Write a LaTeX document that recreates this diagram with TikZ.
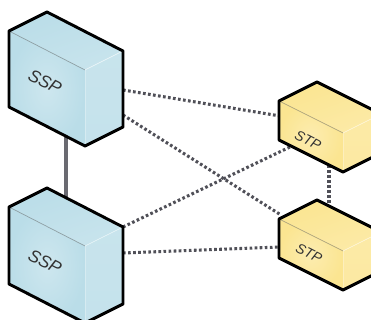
\documentclass[tikz,border=0pt]{standalone}
\usepackage{fontspec}
\usepackage{xcolor}
\usepackage{tikz}
\usetikzlibrary{positioning,calc}
\setmainfont{Liberation Sans}
\definecolor{sspface}{RGB}{186,221,232}
\definecolor{stpface}{RGB}{251,229,145}
\definecolor{linkgray}{RGB}{80,80,88}
\tikzset{
    boxedge/.style={line width=2.2pt, line join=round},
    boxcrease/.style={line width=0.5pt},
    boxlabel/.style={text=black!80, inner sep=0pt, rotate=-27},
    dottedlink/.style={linkgray, line width=2.3pt, dash pattern=on 2pt off 1.8pt},
    solidlink/.style={linkgray!85!white, line width=2.3pt},
    pics/cabinet/.style n args={4}{code={
        % faces
        \shade[left color=#4, right color=#4!80!white, shading angle=20]
            (0,0) -- (38,-19) -- (38+#1,-19+#2) -- (#1,#2) -- cycle;
        \shade[inner color=#4!72!white, outer color=#4]
            (0,0) -- (#1,#2) -- (#1,#2+#3) -- (0,#3) -- cycle;
        \shade[bottom color=#4!85!white, top color=#4!80!white]
            (#1,#2) -- (38+#1,-19+#2) -- (38+#1,-19+#2+#3) -- (#1,#2+#3) -- cycle;
        % creases
        \draw[boxcrease, #4!60!black!80] (0,0) -- (#1,#2);
        \draw[boxcrease, white!70!#4] (#1,#2) -- (38+#1,-19+#2);
        \draw[boxcrease, white!40!#4] (#1,#2) -- (#1,#2+#3);
        % outline
        \draw[boxedge] (0,0) -- (38,-19) -- (38+#1,-19+#2) -- (38+#1,-19+#2+#3)
            -- (#1,#2+#3) -- (0,#3) -- cycle;
    }}
}
\begin{document}
\begin{tikzpicture}[x=0.75pt, y=-0.75pt]
    \useasboundingbox (0,0) rectangle (371,320);
    \clip (0,0) rectangle (371,320);

    % Link ends
    \coordinate (ssptopa) at (123,90);
    \coordinate (ssptopb) at (123,115);
    \coordinate (ssptopc) at (66,135);
    \coordinate (sspbotc) at (66,197);
    \coordinate (sspbota) at (123,227);
    \coordinate (sspbotb) at (123,253);
    \coordinate (stptopa) at (280,116);
    \coordinate (stptopb) at (292,146);
    \coordinate (stptopc) at (329,165);
    \coordinate (stpbota) at (281,215);
    \coordinate (stpbotb) at (280,247);
    \coordinate (stpbotc) at (329,208);

    % Links
    \draw[solidlink] (ssptopc) -- (sspbotc);
    \draw[dottedlink] (ssptopa) -- (stptopa);
    \draw[dottedlink] (ssptopb) -- (stpbota);
    \draw[dottedlink] (sspbota) -- (stptopb);
    \draw[dottedlink] (sspbotb) -- (stpbotb);
    \draw[dottedlink] (stptopc) -- (stpbotc);

    % SSP boxes
    \pic (ssptop) at (9,31) {cabinet={76}{39}{76}{sspface}};
    \pic (sspbot) at (9,207) {cabinet={76}{39}{77}{sspface}};
    \node[boxlabel, font=\itshape\fontsize{13}{13}\selectfont] (ssptoplabel) at (45,82) {SSP};
    \node[boxlabel, font=\itshape\fontsize{13}{13}\selectfont] (sspbotlabel) at (45,262) {SSP};

    % STP boxes
    \pic (stptop) at (279,101) {cabinet={64}{32}{39}{stpface}};
    \pic (stpbot) at (279,219) {cabinet={64}{32}{39}{stpface}};
    \node[boxlabel, font=\itshape\fontsize{10.5}{10.5}\selectfont] (stptoplabel) at (308,140) {STP};
    \node[boxlabel, font=\itshape\fontsize{10.5}{10.5}\selectfont] (stpbotlabel) at (309,253) {STP};
\end{tikzpicture}
\end{document}
